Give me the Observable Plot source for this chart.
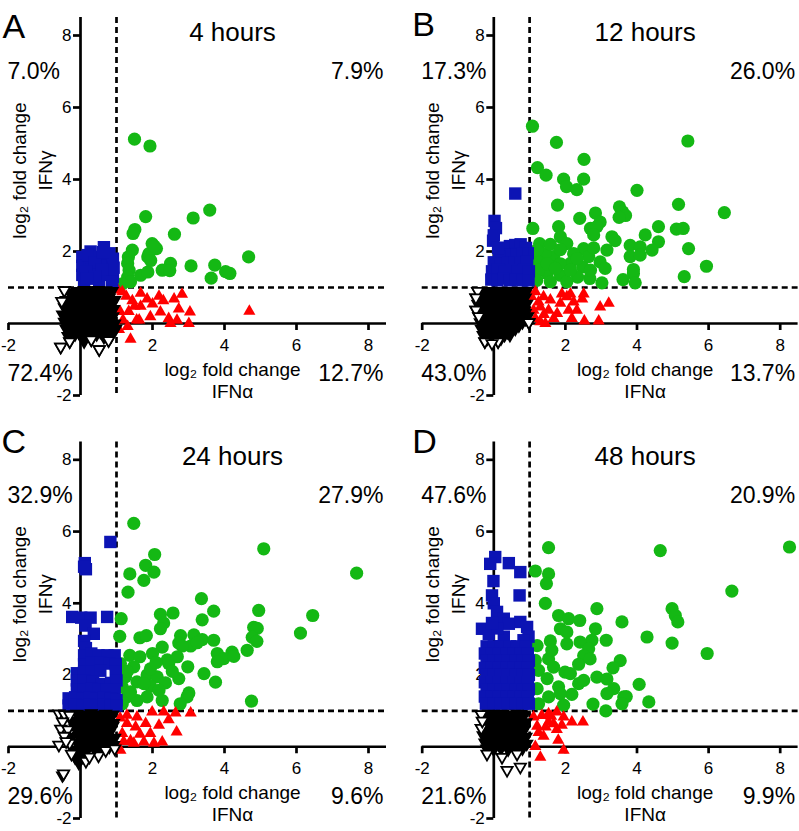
<!DOCTYPE html>
<html><head><meta charset="utf-8">
<script src="https://cdn.jsdelivr.net/npm/d3@7"></script>
<script src="https://cdn.jsdelivr.net/npm/@observablehq/plot@0.6"></script>
<style>
body{margin:0;background:#fff;}
#chart{position:relative;width:799px;height:831px;overflow:hidden;background:#fff;}
#chart svg{position:absolute;}
</style></head><body><div id="chart"></div>
<script>
// ---------- data (log2 fold change: [IFNalpha, IFNgamma]) ----------
const panelLetters = ["A", "B", "C", "D"];
const panelTitles = ["4 hours", "12 hours", "24 hours", "48 hours"];
const pctUpperLeft = ["7.0%", "17.3%", "32.9%", "47.6%"];
const pctUpperRight = ["7.9%", "26.0%", "27.9%", "20.9%"];
const pctLowerLeft = ["72.4%", "43.0%", "29.6%", "21.6%"];
const pctLowerRight = ["12.7%", "13.7%", "9.6%", "9.9%"];
const xTicks = [-2, 2, 4, 6, 8];
const yTicks = [-2, 2, 4, 6, 8];
const threshold = 1;
const axisDomain = [-2, 8.5];

const greenA = [[1.50,5.12],[1.93,4.93],[1.81,2.97],[3.13,2.93],[3.59,3.15],[1.51,2.61],[1.46,2.5],[2.61,2.48],[1.99,2.22],[2.11,2.08],[1.44,2.04],[1.87,1.85],[4.67,1.85],[1.33,1.85],[1.31,1.67],[3.07,1.6],[3.73,1.62],[2.5,1.67],[2.27,1.48],[2.48,1.47],[3.63,1.26],[4.15,1.39],[4.03,1.44],[1.35,1.48],[1.31,1.29],[1.67,1.34],[1.87,1.43],[1.39,1.16],[1.16,1.1],[1.9,1.94],[2.05,2.15],[1.95,1.75]];
const blueA = [[0.05,1.85],[0.05,1.6],[0.05,1.35],[0.1,1.2],[0.28,2.0],[0.25,1.75],[0.3,1.5],[0.3,1.25],[0.5,1.85],[0.5,1.6],[0.5,1.35],[0.52,1.2],[0.65,2.12],[0.7,1.85],[0.72,1.6],[0.75,1.35],[0.9,1.8],[0.92,1.55],[0.9,1.3],[0.88,1.15],[0.2,1.9],[0.4,1.7],[0.6,1.5],[0.15,1.45],[0.8,1.95],[0.4,1.3],[0.62,1.98],[0.18,1.25]];
const redA = [[2.82,0.81],[2.18,0.76],[1.67,0.84],[3.04,0.32],[3.01,0.0],[4.69,0.34],[1.39,-0.44],[2.45,0.14],[1.94,0.19],[2.3,0.63],[2.6,0.68],[2.0,0.54],[2.73,0.4],[1.63,0.1],[1.5,0.48],[1.27,0.76],[1.18,0.1],[1.31,-0.08],[1.1,0.33],[1.67,0.48],[1.44,0.63],[1.04,0.93],[1.16,0.88],[1.85,0.68],[1.56,0.1],[1.07,-0.17],[2.5,0.0],[2.22,0.32],[2.68,0.09],[1.34,0.33]];
const blackA = [[-0.45,0.92],[-0.3,0.85],[-0.1,0.9],[0.1,0.93],[0.3,0.92],[0.5,0.93],[0.7,0.92],[0.88,0.9],[-0.4,0.65],[-0.2,0.7],[0.0,0.72],[0.2,0.68],[0.4,0.74],[0.6,0.7],[0.8,0.72],[0.95,0.65],[-0.45,0.45],[-0.25,0.5],[-0.05,0.48],[0.15,0.52],[0.35,0.47],[0.55,0.5],[0.75,0.45],[0.92,0.4],[-0.5,0.25],[-0.3,0.28],[-0.1,0.3],[0.1,0.25],[0.3,0.3],[0.5,0.27],[0.7,0.25],[0.9,0.2],[-0.45,0.05],[-0.25,0.08],[-0.05,0.05],[0.15,0.1],[0.35,0.05],[0.55,0.08],[0.75,0.03],[0.95,0.0],[-0.4,-0.15],[-0.2,-0.12],[0.0,-0.18],[0.2,-0.1],[0.4,-0.15],[0.6,-0.12],[0.8,-0.2],[0.98,-0.15],[-0.35,-0.35],[-0.15,-0.3],[0.05,-0.38],[0.25,-0.32],[0.45,-0.3],[0.65,-0.38],[0.85,-0.35],[-0.55,-0.65],[0.52,-0.72],[0.78,-0.47],[0.3,-0.45],[-0.3,-0.5],[0.1,-0.5],[-0.3,0.6],[-0.1,0.6],[0.1,0.6],[0.3,0.6],[0.5,0.6],[0.7,0.58],[0.85,0.55],[-0.35,0.38],[-0.15,0.38],[0.05,0.38],[0.25,0.38],[0.45,0.38],[0.65,0.35],[0.85,0.32],[-0.4,0.15],[-0.2,0.17],[0.0,0.15],[0.2,0.18],[0.4,0.17],[0.6,0.15],[0.8,0.12],[-0.3,-0.03],[-0.1,-0.05],[0.1,-0.02],[0.3,-0.05],[0.5,-0.03],[0.7,-0.07],[0.88,-0.05],[-0.25,-0.22],[-0.05,-0.25],[0.15,-0.22],[0.35,-0.25],[0.55,-0.23],[0.75,-0.28],[0.2,0.82],[0.4,0.82],[0.6,0.82],[0.0,0.82],[0.8,0.82],[-0.2,0.8]];
const blackEdgeA = [[-0.45,0.92],[-0.52,0.62],[-0.55,-0.65],[0.52,-0.72],[0.78,-0.47],[0.3,-0.45],[-0.3,-0.5]];

const greenB = [[1.08,5.48],[1.75,5.03],[5.42,5.07],[2.52,4.56],[1.22,4.33],[1.46,4.12],[1.95,4.01],[2.51,4.01],[2.03,3.8],[2.32,3.72],[4.0,3.7],[1.78,3.29],[5.16,3.31],[6.44,3.08],[3.51,3.24],[3.6,3.1],[3.68,3.0],[3.5,2.95],[2.84,3.07],[2.4,2.92],[2.97,2.82],[1.09,2.64],[1.81,2.69],[2.7,2.64],[2.88,2.69],[4.6,2.69],[5.1,2.62],[5.29,2.64],[1.86,2.41],[2.79,2.46],[3.3,2.41],[3.39,2.3],[4.23,2.46],[4.6,2.27],[1.28,2.22],[2.04,2.22],[3.81,2.17],[4.09,2.13],[4.42,2.04],[5.44,2.08],[3.16,2.04],[2.51,2.08],[2.23,1.94],[2.65,1.86],[1.67,1.86],[1.44,1.94],[3.81,1.86],[4.09,1.9],[1.2,1.76],[2.14,1.67],[2.97,1.71],[3.11,1.53],[2.48,1.57],[5.94,1.59],[3.9,1.5],[3.9,1.39],[3.61,1.22],[5.32,1.3],[3.95,1.13],[3.02,1.13],[2.68,1.25],[2.34,1.29],[1.86,1.34],[1.49,1.39],[1.25,1.48],[1.2,1.2],[1.58,1.16],[2.04,1.16],[1.2,2.04],[1.49,1.66],[1.86,1.66],[2.33,1.8],[1.58,2.2],[2.79,2.1],[1.86,2.05],[2.14,1.48],[1.72,1.53],[2.7,1.48]];
const blueB = [[0.02,2.85],[0.06,2.65],[0.0,2.45],[-0.02,2.3],[0.3,2.1],[0.45,2.15],[0.6,2.18],[0.75,2.2],[0.9,2.1],[0.95,1.95],[0.8,1.95],[0.62,1.95],[0.45,1.92],[0.3,1.9],[0.15,1.85],[0.0,1.7],[0.2,1.65],[0.4,1.68],[0.58,1.7],[0.75,1.7],[0.93,1.72],[-0.05,1.45],[0.12,1.5],[0.3,1.45],[0.5,1.48],[0.68,1.45],[0.85,1.5],[0.98,1.45],[-0.07,1.22],[0.1,1.2],[0.28,1.25],[0.45,1.2],[0.62,1.22],[0.8,1.2],[0.97,1.2],[0.6,3.61],[0.12,2.1]];
const redB = [[3.21,0.56],[2.97,0.46],[2.93,0.07],[2.53,0.07],[2.51,0.82],[2.14,0.82],[2.47,0.68],[2.04,0.74],[1.86,0.56],[2.09,0.37],[2.18,0.14],[1.77,0.28],[1.39,0.74],[1.16,0.88],[1.3,0.46],[1.53,0.37],[1.44,0.0],[1.16,0.14],[1.67,0.14],[1.11,0.37],[1.58,0.65],[2.23,0.6],[2.32,0.37],[1.9,0.82],[1.25,0.6],[1.4,0.25],[1.05,0.75],[1.3,0.05]];
const blackB = [[-0.45,0.9],[-0.25,0.9],[-0.05,0.9],[0.15,0.9],[0.35,0.9],[0.55,0.9],[0.75,0.9],[0.92,0.9],[-0.5,0.72],[-0.3,0.72],[-0.1,0.72],[0.1,0.72],[0.3,0.72],[0.5,0.72],[0.7,0.72],[0.88,0.72],[-0.45,0.55],[-0.25,0.55],[-0.05,0.55],[0.15,0.55],[0.35,0.55],[0.55,0.55],[0.75,0.55],[0.92,0.55],[-0.5,0.38],[-0.3,0.38],[-0.1,0.38],[0.1,0.38],[0.3,0.38],[0.5,0.38],[0.7,0.38],[0.85,0.38],[-0.42,0.2],[-0.22,0.2],[-0.02,0.2],[0.18,0.2],[0.38,0.2],[0.58,0.2],[0.78,0.2],[0.95,0.2],[-0.38,0.03],[-0.18,0.03],[0.02,0.03],[0.22,0.03],[0.42,0.03],[0.62,0.03],[0.8,0.03],[0.98,0.03],[-0.35,-0.15],[-0.15,-0.15],[0.05,-0.15],[0.25,-0.15],[0.45,-0.15],[0.6,-0.15],[-0.3,-0.32],[-0.1,-0.32],[0.1,-0.32],[0.3,-0.32],[0.45,-0.32],[-0.25,-0.5],[-0.05,-0.5],[0.12,-0.5],[-0.35,0.8],[-0.15,0.8],[0.05,0.8],[0.25,0.8],[0.45,0.8],[0.65,0.8],[0.85,0.8],[-0.4,0.63],[-0.2,0.63],[0.0,0.63],[0.2,0.63],[0.4,0.63],[0.6,0.63],[0.8,0.63],[-0.35,0.46],[-0.15,0.46],[0.05,0.46],[0.25,0.46],[0.45,0.46],[0.65,0.46],[0.82,0.46],[-0.32,0.29],[-0.12,0.29],[0.08,0.29],[0.28,0.29],[0.48,0.29],[0.68,0.29],[0.88,0.29],[-0.3,0.12],[-0.1,0.12],[0.1,0.12],[0.3,0.12],[0.5,0.12],[0.7,0.12],[0.88,0.12],[-0.28,-0.06],[-0.08,-0.06],[0.12,-0.06],[0.32,-0.06],[0.52,-0.06],[0.7,-0.06],[-0.22,-0.24],[-0.02,-0.24],[0.18,-0.24],[0.38,-0.24],[-0.18,-0.42],[0.02,-0.42],[0.2,-0.42]];
const blackEdgeB = [[-0.45,0.9],[-0.5,0.72],[-0.5,0.38],[-0.42,0.2],[-0.25,-0.5],[0.12,-0.5],[0.98,0.03],[-0.05,-0.55]];

const greenC = [[1.48,6.23],[5.09,5.52],[7.67,4.84],[2.06,5.36],[1.81,5.06],[2.04,4.87],[1.37,4.82],[1.76,4.64],[1.32,4.31],[3.36,4.13],[4.95,3.8],[3.7,3.78],[2.57,3.73],[2.22,3.69],[6.45,3.66],[1.13,3.57],[3.38,3.54],[2.31,3.45],[4.81,3.33],[4.91,3.3],[6.11,3.17],[2.22,3.29],[1.09,3.08],[1.65,3.04],[1.83,3.1],[2.78,3.1],[3.15,3.12],[2.73,2.89],[3.38,2.99],[3.7,2.97],[4.77,3.05],[4.9,2.94],[3.06,2.81],[2.83,2.81],[4.63,2.69],[4.21,2.64],[3.8,2.6],[3.98,2.46],[3.8,2.37],[4.26,2.52],[2.27,2.78],[2.0,2.6],[1.37,2.55],[1.65,2.51],[2.41,2.42],[2.69,2.51],[2.98,2.23],[3.43,2.04],[3.75,1.8],[2.73,1.9],[1.11,2.32],[1.48,2.23],[1.85,2.0],[2.13,1.95],[2.36,1.78],[1.25,1.95],[1.57,1.81],[1.94,1.69],[3.01,1.5],[2.96,1.39],[2.77,1.2],[4.75,1.27],[2.27,1.29],[1.29,1.39],[1.57,1.29],[1.85,1.39],[1.16,1.67],[1.39,1.53],[2.18,1.57],[1.76,1.76],[2.45,2.32],[3.24,2.9],[1.94,2.17],[1.16,1.2],[1.1,2.1],[1.3,2.1],[2.55,2.1],[2.1,2.35]];
const blueC = [[0.83,5.71],[0.12,5.12],[0.15,4.95],[0.1,5.02],[-0.23,3.62],[0.02,3.6],[0.28,3.6],[0.74,3.62],[0.14,3.38],[0.37,3.15],[0.1,2.95],[0.15,2.75],[0.1,2.55],[0.3,2.6],[0.5,2.55],[0.75,2.55],[0.95,2.55],[0.1,2.3],[0.3,2.35],[0.55,2.35],[0.8,2.32],[0.98,2.3],[-0.1,2.05],[0.1,2.08],[0.3,2.1],[0.55,2.12],[0.98,2.1],[-0.1,1.85],[0.1,1.85],[0.35,1.82],[0.6,1.75],[0.85,1.78],[1.0,1.85],[-0.1,1.6],[0.1,1.6],[0.3,1.62],[0.5,1.58],[0.72,1.6],[0.95,1.6],[-0.33,1.35],[-0.15,1.38],[0.05,1.35],[0.25,1.38],[0.45,1.35],[0.65,1.38],[0.85,1.35],[1.0,1.3],[-0.33,1.15],[-0.15,1.18],[0.05,1.15],[0.25,1.18],[0.45,1.15],[0.65,1.18],[0.85,1.15],[1.0,1.15]];
const redC = [[3.06,0.94],[2.64,0.94],[2.31,0.97],[1.99,0.97],[2.18,0.6],[2.67,0.41],[2.27,0.13],[1.76,0.13],[1.94,0.37],[1.53,0.55],[1.29,0.65],[1.11,-0.1],[1.39,0.17],[1.16,0.37],[1.57,0.83],[1.29,0.88],[1.81,0.65],[1.48,0.1],[2.04,0.1],[1.1,0.8],[1.65,0.35],[2.45,0.75],[1.2,0.15]];
const blackC = [[-0.1,0.92],[0.1,0.9],[0.3,0.93],[0.5,0.9],[0.7,0.92],[0.9,0.9],[-0.25,0.72],[-0.05,0.7],[0.15,0.72],[0.35,0.68],[0.55,0.72],[0.75,0.7],[0.92,0.66],[-0.15,0.52],[0.05,0.5],[0.25,0.48],[0.45,0.52],[0.65,0.5],[0.85,0.47],[-0.25,0.28],[-0.05,0.3],[0.15,0.32],[0.35,0.28],[0.55,0.3],[0.75,0.28],[0.95,0.25],[-0.1,0.12],[0.1,0.08],[0.3,0.12],[0.5,0.1],[0.7,0.08],[0.92,0.05],[-0.2,-0.1],[0.0,-0.12],[0.2,-0.08],[0.45,-0.1],[-0.15,-0.3],[0.05,-0.28],[-0.05,-0.45],[-0.5,-0.8],[0.0,0.82],[0.2,0.8],[0.4,0.8],[0.6,0.8],[0.8,0.8],[-0.1,0.6],[0.1,0.6],[0.3,0.6],[0.5,0.6],[0.7,0.6],[0.9,0.58],[0.0,0.4],[0.2,0.4],[0.4,0.4],[0.6,0.4],[0.8,0.38],[0.0,0.2],[0.2,0.2],[0.4,0.2],[0.6,0.2],[0.85,0.18],[0.1,-0.02],[0.35,0.0],[0.6,0.0],[0.8,0.0]];
const blackEdgeC = [[-0.6,0.92],[-0.45,0.9],[-0.3,0.88],[-0.5,0.7],[-0.55,0.5],[-0.35,0.48],[-0.45,0.3],[-0.6,0.05],[-0.3,0.1],[-0.47,-0.75],[0.15,-0.4],[0.5,-0.25],[0.25,-0.28],[0.7,-0.1],[0.95,-0.05],[-0.4,0.15],[-0.25,-0.2]];

const greenD = [[1.53,5.55],[4.65,5.47],[8.26,5.57],[1.16,4.9],[1.53,4.82],[1.47,4.55],[6.65,4.34],[1.44,4.0],[2.88,3.85],[4.98,3.85],[5.07,3.66],[5.14,3.48],[3.58,3.48],[1.81,3.66],[2.09,3.57],[2.4,3.52],[1.86,3.29],[2.84,3.29],[4.28,3.06],[3.14,2.97],[2.74,2.97],[1.58,2.95],[2.04,2.87],[2.41,2.92],[4.98,2.89],[5.96,2.6],[1.21,2.82],[2.65,2.73],[2.51,2.54],[2.69,2.45],[3.53,2.4],[3.33,2.2],[2.37,2.3],[1.53,2.45],[1.16,2.41],[1.25,2.13],[1.67,2.22],[1.99,2.08],[2.14,2.04],[2.88,1.94],[3.16,1.89],[2.37,1.76],[4.06,1.74],[3.35,1.62],[3.16,1.48],[3.63,1.39],[3.7,1.4],[4.33,1.25],[3.58,1.2],[2.77,1.19],[3.13,1.0],[2.18,1.46],[1.81,1.67],[1.49,1.9],[1.21,1.62],[1.53,1.39],[1.95,1.16],[1.25,1.2],[1.86,1.48],[2.51,1.85],[1.62,2.69],[2.04,3.2]];
const blueD = [[0.04,5.29],[-0.1,5.1],[0.42,5.12],[0.74,4.87],[-0.01,4.62],[0.72,4.22],[-0.05,4.22],[0.0,4.0],[0.09,3.76],[0.28,3.57],[0.42,3.43],[-0.33,3.29],[-0.14,3.15],[0.74,3.48],[0.93,3.34],[0.97,3.07],[0.83,2.97],[0.28,3.07],[0.1,3.3],[-0.05,3.45],[-0.2,2.8],[0.0,2.8],[0.2,2.8],[0.45,2.8],[0.65,2.8],[0.9,2.8],[-0.25,2.6],[-0.05,2.6],[0.15,2.6],[0.35,2.6],[0.55,2.6],[0.75,2.6],[0.95,2.6],[-0.2,2.4],[0.0,2.4],[0.2,2.4],[0.4,2.4],[0.6,2.4],[0.8,2.4],[0.98,2.4],[-0.25,2.2],[-0.05,2.2],[0.15,2.2],[0.35,2.2],[0.55,2.2],[0.75,2.2],[0.95,2.2],[-0.2,2.0],[0.0,2.0],[0.2,2.0],[0.4,2.0],[0.6,2.0],[0.8,2.0],[0.98,2.0],[-0.25,1.8],[-0.05,1.8],[0.15,1.8],[0.35,1.8],[0.55,1.8],[0.75,1.8],[0.95,1.8],[-0.2,1.6],[0.0,1.6],[0.2,1.6],[0.4,1.6],[0.6,1.6],[0.8,1.6],[0.98,1.6],[-0.25,1.4],[-0.05,1.4],[0.15,1.4],[0.35,1.4],[0.55,1.4],[0.75,1.4],[0.95,1.4],[-0.22,1.2],[0.0,1.2],[0.2,1.2],[0.4,1.2],[0.6,1.2],[0.8,1.2],[0.98,1.2]];
const redD = [[2.49,0.69],[2.18,0.69],[1.76,0.97],[1.53,0.92],[1.95,0.83],[1.76,0.48],[1.8,0.18],[1.95,-0.1],[1.3,-0.29],[1.21,0.57],[1.39,0.29],[1.16,0.01],[1.53,0.69],[1.11,0.83],[1.34,0.87],[1.67,0.64],[1.25,0.4],[1.45,0.55],[1.6,0.85],[1.9,0.6]];
const blackD = [[-0.35,0.9],[-0.15,0.92],[0.05,0.9],[0.25,0.92],[0.45,0.9],[0.65,0.92],[0.85,0.9],[-0.3,0.72],[-0.1,0.7],[0.1,0.72],[0.3,0.7],[0.5,0.72],[0.7,0.7],[0.9,0.68],[-0.35,0.52],[-0.15,0.5],[0.05,0.52],[0.25,0.5],[0.45,0.52],[0.65,0.5],[0.85,0.48],[-0.3,0.32],[-0.1,0.3],[0.1,0.32],[0.3,0.3],[0.5,0.32],[0.7,0.3],[0.9,0.28],[-0.25,0.12],[-0.05,0.1],[0.15,0.12],[0.35,0.1],[0.55,0.12],[0.75,0.1],[0.92,0.08],[-0.2,-0.05],[0.0,-0.08],[0.2,-0.05],[0.4,-0.08],[0.6,-0.05],[0.8,-0.05],[-0.2,0.82],[0.0,0.8],[0.2,0.82],[0.4,0.8],[0.6,0.82],[0.8,0.8],[-0.2,0.6],[0.0,0.6],[0.2,0.6],[0.4,0.6],[0.6,0.6],[0.8,0.6],[-0.2,0.4],[0.0,0.4],[0.2,0.4],[0.4,0.4],[0.6,0.4],[0.8,0.4],[-0.15,0.2],[0.05,0.2],[0.25,0.2],[0.45,0.2],[0.65,0.2],[0.85,0.2]];
const blackEdgeD = [[-0.35,0.9],[-0.35,0.52],[-0.32,0.72],[-0.19,-0.2],[0.23,-0.29],[0.65,-0.2],[0.37,-0.65],[0.74,-0.56]];

const greens = [greenA, greenB, greenC, greenD];
const blues = [blueA, blueB, blueC, blueD];
const reds = [redA, redB, redC, redD];
const blacks = [blackA, blackB, blackC, blackD];
const blackEdges = [blackEdgeA, blackEdgeB, blackEdgeC, blackEdgeD];

// ---------- layout & style ----------
const FONT = "'Liberation Sans', Arial, Helvetica, sans-serif";
const COLORS = {green: "#14b814", blue: "#0c14b4", red: "#ff0000", black: "#000000"};
const layout = [
  {left: 0,   top: 0,   width: 400, height: 415, mt: 17,   mr: 14,  mb: 20, ml: 8,    ldx: -6,  ldy: 20},
  {left: 400, top: 0,   width: 399, height: 415, mt: 17,   mr: 1.4, mb: 20, ml: 21.7, ldx: -10, ldy: 18},
  {left: 0,   top: 415, width: 400, height: 416, mt: 26.4, mr: 14,  mb: 13, ml: 8,    ldx: -7,  ldy: 11},
  {left: 400, top: 415, width: 399, height: 416, mt: 26.4, mr: 1.4, mb: 13, ml: 21.7, ldx: -10, ldy: 11}
];

const sqrt3 = Math.sqrt(3);
const triangleDown = {
  draw(context, size) {
    const y = Math.sqrt(size / (sqrt3 * 3));
    context.moveTo(0, y * 2);
    context.lineTo(-sqrt3 * y, -y);
    context.lineTo(sqrt3 * y, -y);
    context.closePath();
  }
};

const px = d => d[0], py = d => d[1];
const chart = document.getElementById("chart");

layout.forEach((L, i) => {
  const lineStyle = {stroke: "black", strokeWidth: 2.7};
  const svg = Plot.plot({
    width: L.width, height: L.height,
    marginTop: L.mt, marginRight: L.mr, marginBottom: L.mb, marginLeft: L.ml,
    x: {domain: axisDomain, axis: null},
    y: {domain: axisDomain, axis: null},
    style: {fontFamily: FONT, fontSize: "17px", color: "black", background: "transparent", overflow: "visible"},
    marks: [
      // threshold lines
      Plot.ruleX([threshold], {...lineStyle, strokeDasharray: "6,4"}),
      Plot.ruleY([threshold], {...lineStyle, strokeDasharray: "6,4"}),
      // axes through the origin
      Plot.ruleY([0], lineStyle),
      Plot.ruleX([0], lineStyle),
      Plot.ruleX(xTicks, {x: d => d, y1: 0, y2: 0, insetTop: 0, insetBottom: -7, ...lineStyle}),
      Plot.ruleY(yTicks, {y: d => d, x1: 0, x2: 0, insetLeft: -7, insetRight: 0, ...lineStyle}),
      Plot.text(xTicks, {x: d => d, y: 0, text: d => String(d), dy: 22, fontSize: 17}),
      Plot.text(yTicks, {x: 0, y: d => d, text: d => String(d), textAnchor: "end", dx: -9, fontSize: 17}),
      // axis titles
      Plot.text(["log\u2082 fold change"], {frameAnchor: "left", textAnchor: "middle", rotate: -90, lineAnchor: "bottom", dx: 17, dy: -36, fontSize: 19}),
      Plot.text(["IFN\u03b3"], {frameAnchor: "left", textAnchor: "middle", rotate: -90, lineAnchor: "bottom", dx: 43, dy: -36, fontSize: 19}),
      Plot.text(["log\u2082 fold change"], {frameAnchor: "bottom", lineAnchor: "bottom", dx: 35, dy: -20, fontSize: 19}),
      Plot.text(["IFN\u03b1"], {frameAnchor: "bottom", lineAnchor: "bottom", dx: 35, dy: 2, fontSize: 19}),
      // data
      Plot.dot(greens[i], {x: px, y: py, r: 6.6, fill: COLORS.green, stroke: null}),
      Plot.dot(reds[i], {x: px, y: py, symbol: "triangle", r: 4.5, fill: COLORS.red, stroke: null}),
      Plot.dot(blues[i], {x: px, y: py, symbol: "square", r: 7, fill: COLORS.blue, stroke: null}),
      Plot.dot(blacks[i], {x: px, y: py, symbol: triangleDown, r: 4.2, fill: COLORS.black, stroke: COLORS.black, strokeWidth: 1.6}),
      Plot.dot(blackEdges[i], {x: px, y: py, symbol: triangleDown, r: 4.2, fill: "white", stroke: COLORS.black, strokeWidth: 1.8}),
      // annotations
      Plot.text([panelLetters[i]], {frameAnchor: "top-left", textAnchor: "start", lineAnchor: "bottom", dx: L.ldx, dy: L.ldy, fontSize: 34}),
      Plot.text([panelTitles[i]], {frameAnchor: "top", lineAnchor: "bottom", dx: 35, dy: 23, fontSize: 26}),
      Plot.text([pctUpperLeft[i]], {frameAnchor: "top-left", textAnchor: "start", lineAnchor: "bottom", dx: -1, dy: 61, fontSize: 23}),
      Plot.text([pctUpperRight[i]], {frameAnchor: "top-right", textAnchor: "end", lineAnchor: "bottom", dx: -3, dy: 61, fontSize: 23}),
      Plot.text([pctLowerLeft[i]], {frameAnchor: "bottom-left", textAnchor: "start", lineAnchor: "bottom", dx: -1, dy: -15, fontSize: 23}),
      Plot.text([pctLowerRight[i]], {frameAnchor: "bottom-right", textAnchor: "end", lineAnchor: "bottom", dx: -3, dy: -15, fontSize: 23})
    ]
  });
  svg.style.left = L.left + "px";
  svg.style.top = L.top + "px";
  chart.appendChild(svg);
});
</script></body></html>
